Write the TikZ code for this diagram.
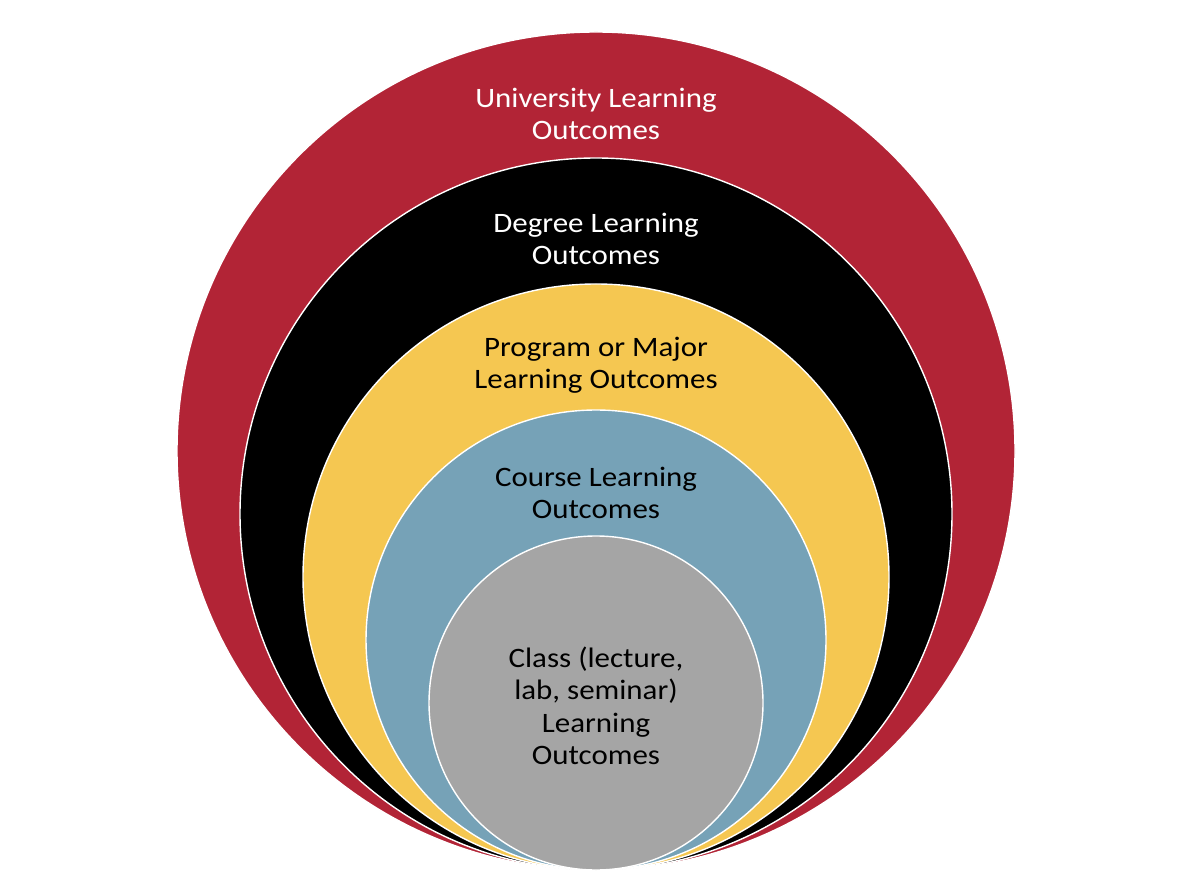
\documentclass[tikz,border=0pt]{standalone}
\usepackage{fontspec}
\setmainfont[FakeStretch=1.1]{Carlito}
\usepackage{tikz}
\usetikzlibrary{positioning}

\definecolor{ulored}{HTML}{B22436}
\definecolor{loyellow}{HTML}{F5C751}
\definecolor{loblue}{HTML}{76A2B7}
\definecolor{logray}{HTML}{A5A5A5}

\tikzset{
  ring/.style={draw=white, line width=1pt},
  lolabel/.style={align=center, font=\fontsize{20}{23.1}\selectfont, inner sep=0pt}
}

\begin{document}
\begin{tikzpicture}[x=0.025cm, y=0.025cm]
\useasboundingbox (0,0) rectangle (1200,894);
\fill[white] (0,0) rectangle (1200,894);
\filldraw[ring, fill=ulored] (596,443) circle (419);
\filldraw[ring, fill=black] (596,380) circle (356);
\filldraw[ring, fill=loyellow] (596,317) circle (293);
\filldraw[ring, fill=loblue] (596,254) circle (230);
\filldraw[ring, fill=logray] (596,191) circle (167);
\node[lolabel, text=white] (univ) at (596,780) {University Learning\\Outcomes};
\node[lolabel, text=white] (degree) at (596,655) {Degree Learning\\Outcomes};
\node[lolabel] (program) at (596,529) {Program or Major\\Learning Outcomes};
\node[lolabel] (course) at (596,401) {Course Learning\\Outcomes};
\node[lolabel] (class) at (596,188) {Class (lecture,\\lab, seminar)\\Learning\\Outcomes};
\end{tikzpicture}
\end{document}
